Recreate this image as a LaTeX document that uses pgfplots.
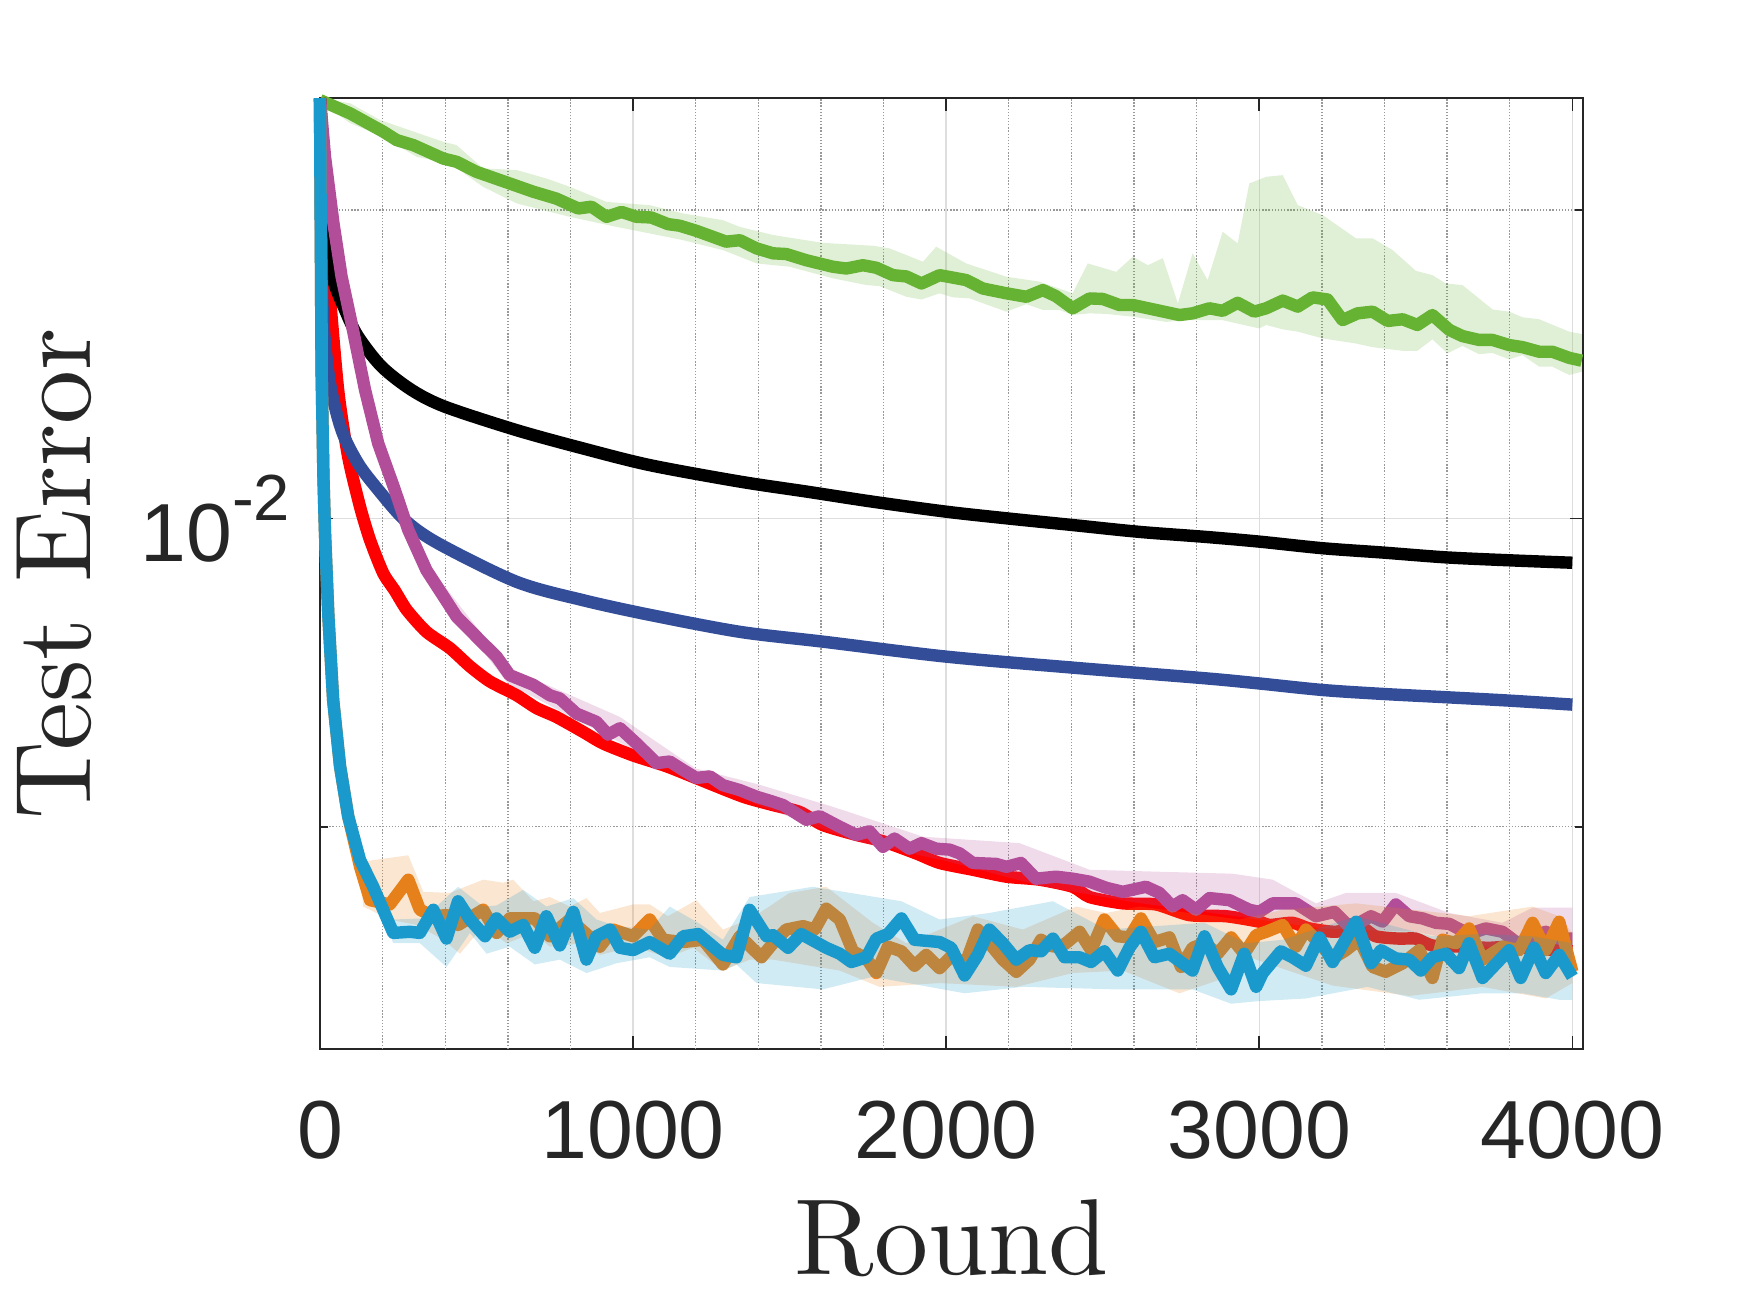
\documentclass[border=0pt]{standalone}
\usepackage{fontspec}
\usepackage{pgfplots}
\pgfplotsset{compat=1.18}
\newfontfamily\tickfont{Liberation Sans}
\newfontfamily\labfont{lmroman10-regular.otf}
\definecolor{cgreen}{RGB}{102,178,51}
\definecolor{cblue}{RGB}{51,77,153}
\definecolor{cmag}{RGB}{178,77,153}
\definecolor{ccyan}{RGB}{26,153,204}
\definecolor{corange}{RGB}{230,128,26}
\definecolor{axgray}{RGB}{38,38,38}
\begin{document}
\begin{tikzpicture}
\useasboundingbox (0,0) rectangle (437.5pt,328.25pt);
\begin{axis}[
  at={(80pt,66pt)}, anchor=south west,
  scale only axis, width=315.75pt, height=237.7pt,
  xmin=0, xmax=4034, ymode=log, ymin=0.003035, ymax=0.0257,
  xtick={0,1000,2000,3000,4000}, xticklabels={0,1000,2000,3000,4000},
  ytick={0.01}, yticklabels={{10\raisebox{0.5em}{\fontsize{16.3}{16.3}\selectfont -2}}},
  minor ytick={0.005,0.02},
  extra x ticks={200,400,600,800,1200,1400,1600,1800,2200,2400,2600,2800,3200,3400,3600,3800},
  extra x tick labels={},
  extra x tick style={grid=major, major tick length=0pt,
    major grid style={black!40, line width=0.33pt, dash pattern=on 0.33pt off 0.45pt}},
  grid=both,
  major grid style={black!13, line width=0.35pt},
  minor grid style={black!40, line width=0.33pt, dash pattern=on 0.33pt off 0.45pt},
  tick align=inside, major tick length=3.2pt, minor tick length=2pt,
  axis line style={axgray, line width=0.4pt},
  every tick/.style={axgray, line width=0.4pt},
  tick label style={font=\tickfont\fontsize{20.6}{24}\selectfont, text=axgray},
  xticklabel style={inner sep=0pt, anchor=north, yshift=-12.75pt},
  yticklabel style={inner sep=0pt, anchor=east, xshift=-7.25pt},
  xlabel={Round}, ylabel={Test Error},
  xlabel style={at={([yshift=-56.25pt]axis description cs:0.5,0)}, anchor=base, font=\labfont\fontsize{27}{30}\selectfont, text=axgray},
  ylabel style={at={([xshift=-57.3pt]axis description cs:0,0.5)}, anchor=base, rotate=0, font=\labfont\fontsize{27}{30}\selectfont, text=axgray},
  clip=false,
  every axis plot/.append style={line width=3.1pt, line join=round},
]
% green band
\addplot[draw=none, fill=cgreen, fill opacity=0.2] coordinates {
(0,0.02570)(96,0.02541)(192,0.02447)(394,0.02330)(436,0.02313)(521,0.02195)(628,0.02187)(723,0.02146)(798,0.02106)(915,0.02036)(1053,0.02021)(1160,0.01984)(1287,0.01954)(1341,0.01925)(1447,0.01890)(1606,0.01857)(1766,0.01845)(1819,0.01834)(1926,0.01780)(1968,0.01841)(2064,0.01773)(2192,0.01721)(2298,0.01702)(2404,0.01658)(2452,0.01773)(2543,0.01740)(2596,0.01800)(2644,0.01766)(2692,0.01794)(2740,0.01621)(2787,0.01814)(2835,0.01708)(2883,0.01904)(2931,0.01855)(2968,0.02122)(3022,0.02154)(3075,0.02162)(3123,0.02021)(3203,0.01976)(3309,0.01876)(3362,0.01876)(3426,0.01827)(3500,0.01744)(3553,0.01727)(3596,0.01695)(3649,0.01689)(3745,0.01599)(3798,0.01591)(3841,0.01571)(3894,0.01564)(3990,0.01521)(4030,0.01513)
(4030,0.01390)(3990,0.01380)(3936,0.01406)(3894,0.01406)(3841,0.01443)(3798,0.01429)(3745,0.01450)(3702,0.01446)(3649,0.01473)(3601,0.01449)(3553,0.01495)(3505,0.01457)(3458,0.01457)(3362,0.01469)(3309,0.01481)(3203,0.01498)(3123,0.01521)(3075,0.01529)(3022,0.01544)(3000,0.01532)(2883,0.01561)(2777,0.01561)(2702,0.01555)(2596,0.01573)(2511,0.01583)(2458,0.01585)(2404,0.01579)(2362,0.01597)(2309,0.01597)(2256,0.01618)(2192,0.01591)(2075,0.01639)(2021,0.01643)(1979,0.01658)(1921,0.01635)(1873,0.01645)(1787,0.01685)(1745,0.01689)(1638,0.01715)(1500,0.01760)(1394,0.01773)(1341,0.01800)(1287,0.01827)(1160,0.01868)(1053,0.01897)(947,0.01925)(798,0.01969)(628,0.02029)(521,0.02106)(415,0.02220)(308,0.02253)(202,0.02357)(96,0.02430)(0,0.02550)
};
% green line
\addplot[cgreen] coordinates {
(0,0.02559)(96,0.02484)(202,0.02384)(245,0.02339)(298,0.02313)(394,0.02244)(436,0.02228)(500,0.02178)(606,0.02122)(681,0.02083)(755,0.02051)(825,0.02006)(867,0.02014)(915,0.01969)(963,0.01991)(1011,0.01969)(1058,0.01966)(1111,0.01937)(1149,0.01930)(1202,0.01908)(1297,0.01862)(1341,0.01868)(1394,0.01834)(1447,0.01814)(1489,0.01811)(1553,0.01786)(1638,0.01760)(1681,0.01753)(1734,0.01766)(1777,0.01756)(1830,0.01727)(1873,0.01722)(1921,0.01695)(1979,0.01727)(2064,0.01708)(2117,0.01676)(2192,0.01658)(2256,0.01645)(2309,0.01670)(2351,0.01647)(2404,0.01603)(2458,0.01639)(2500,0.01637)(2553,0.01615)(2596,0.01615)(2670,0.01597)(2745,0.01579)(2787,0.01585)(2841,0.01603)(2883,0.01594)(2931,0.01623)(2984,0.01591)(3022,0.01603)(3075,0.01631)(3123,0.01609)(3170,0.01643)(3218,0.01635)(3266,0.01561)(3314,0.01585)(3362,0.01591)(3410,0.01558)(3458,0.01564)(3505,0.01544)(3553,0.01579)(3607,0.01527)(3649,0.01506)(3702,0.01493)(3745,0.01493)(3798,0.01476)(3841,0.01469)(3894,0.01454)(3936,0.01454)(3990,0.01434)(4030,0.01425)
};
% red line
\addplot[red, smooth, tension=0.4] coordinates {
(0,0.02570)(15,0.02100)(27,0.01721)(58,0.01334)(90,0.01148)(128,0.01026)(160,0.00952)(202,0.00884)(239,0.00850)(277,0.00814)(340,0.00775)(415,0.00747)(479,0.00717)(543,0.00693)(628,0.00672)(691,0.00653)(755,0.00640)(840,0.00619)(904,0.00603)(1000,0.00587)(1106,0.00573)(1213,0.00556)(1351,0.00535)(1447,0.00525)(1532,0.00517)(1606,0.00502)(1713,0.00491)(1798,0.00484)(1904,0.00471)(1979,0.00461)(2085,0.00454)(2192,0.00447)(2298,0.00444)(2404,0.00437)(2458,0.00427)(2564,0.00421)(2670,0.00420)(2777,0.00410)(2894,0.00409)(3000,0.00404)(3032,0.00401)(3106,0.00403)(3160,0.00398)(3245,0.00395)(3319,0.00400)(3372,0.00391)(3447,0.00389)(3500,0.00389)(3553,0.00383)(3650,0.00382)(3734,0.00381)(3798,0.00382)(3900,0.00380)(4000,0.00378)
};
% black line
\addplot[black, smooth, tension=0.5] coordinates {
(0,0.02570)(21,0.01969)(37,0.01734)(80,0.01597)(122,0.01504)(197,0.01406)(293,0.01334)(399,0.01285)(628,0.01219)(840,0.01170)(1053,0.01127)(1341,0.01086)(1553,0.01062)(1766,0.01038)(2000,0.01015)(2192,0.01000)(2404,0.00985)(2617,0.00970)(2830,0.00959)(3000,0.00949)(3202,0.00935)(3394,0.00926)(3596,0.00916)(3798,0.00910)(4000,0.00905)
};
% blue line
\addplot[cblue, smooth, tension=0.5] coordinates {
(0,0.02570)(5,0.01786)(11,0.01549)(32,0.01354)(69,0.01219)(122,0.01131)(186,0.01066)(271,0.00996)(378,0.00945)(628,0.00867)(840,0.00832)(1053,0.00805)(1341,0.00775)(1606,0.00758)(2000,0.00733)(2404,0.00715)(2830,0.00698)(3000,0.00690)(3202,0.00680)(3394,0.00674)(3596,0.00669)(3798,0.00664)(4000,0.00658)
};
% magenta band
\addplot[draw=none, fill=cmag, fill opacity=0.2] coordinates {
(282,0.00990)(340,0.00905)(600,0.00715)(958,0.00640)(1200,0.00570)(1400,0.00550)(1638,0.00523)(1926,0.00489)(2234,0.00482)(2458,0.00454)(2681,0.00452)(2915,0.00450)(3043,0.00444)(3181,0.00421)(3277,0.00431)(3436,0.00431)(3607,0.00412)(3777,0.00403)(3873,0.00417)(4000,0.00417)
(4000,0.00380)(3800,0.00378)(3500,0.00395)(3200,0.00398)(2900,0.00410)(2600,0.00422)(2300,0.00438)(2000,0.00463)(1700,0.00485)(1400,0.00525)(1000,0.00595)(600,0.00690)(340,0.00875)(282,0.00960)
};
% magenta line
\addplot[cmag] coordinates {
(0,0.02570)(16,0.02253)(43,0.01941)(69,0.01721)(101,0.01549)(144,0.01334)(186,0.01183)(239,0.01066)(282,0.00974)(340,0.00890)(436,0.00802)(521,0.00755)(564,0.00733)(606,0.00703)(681,0.00688)(734,0.00672)(766,0.00667)(819,0.00645)(883,0.00633)(920,0.00615)(958,0.00624)(1011,0.00603)(1075,0.00577)(1117,0.00579)(1160,0.00568)(1202,0.00558)(1245,0.00560)(1287,0.00549)(1341,0.00543)(1394,0.00535)(1447,0.00529)(1479,0.00525)(1553,0.00508)(1596,0.00512)(1660,0.00500)(1713,0.00491)(1755,0.00495)(1798,0.00478)(1835,0.00487)(1883,0.00476)(1921,0.00482)(1968,0.00476)(2011,0.00475)(2043,0.00471)(2085,0.00461)(2160,0.00460)(2192,0.00457)(2239,0.00461)(2287,0.00445)(2351,0.00447)(2404,0.00445)(2458,0.00442)(2511,0.00436)(2564,0.00432)(2638,0.00437)(2681,0.00431)(2723,0.00418)(2755,0.00424)(2798,0.00415)(2841,0.00426)(2905,0.00424)(2968,0.00415)(3000,0.00413)(3043,0.00421)(3117,0.00421)(3181,0.00409)(3240,0.00413)(3282,0.00401)(3319,0.00403)(3357,0.00409)(3394,0.00404)(3436,0.00420)(3479,0.00409)(3521,0.00407)(3564,0.00403)(3607,0.00402)(3670,0.00393)(3723,0.00398)(3777,0.00395)(3835,0.00383)(3873,0.00391)(3915,0.00395)(3958,0.00389)(4000,0.00389)
};
% orange band
\addplot[draw=none, fill=corange, fill opacity=0.2] coordinates {
(128,0.00462)(282,0.00469)(330,0.00432)(415,0.00431)(521,0.00444)(585,0.00441)(617,0.00444)(681,0.00423)(734,0.00427)(798,0.00418)(851,0.00426)(894,0.00412)(1000,0.00420)(1053,0.00420)(1111,0.00409)(1202,0.00424)(1287,0.00397)(1372,0.00406)(1500,0.00431)(1617,0.00437)(1766,0.00403)(1873,0.00385)(2085,0.00409)(2245,0.00397)(2415,0.00418)(2511,0.00412)(2617,0.00418)(2777,0.00412)(2937,0.00406)(3075,0.00415)(3309,0.00421)(3585,0.00412)(3670,0.00409)(3873,0.00418)(3958,0.00409)(4000,0.00394)
(4000,0.00352)(3915,0.00340)(3713,0.00349)(3553,0.00344)(3479,0.00342)(3234,0.00350)(2968,0.00373)(2937,0.00360)(2745,0.00344)(2564,0.00362)(2404,0.00360)(2224,0.00349)(1979,0.00352)(1787,0.00349)(1660,0.00362)(1447,0.00371)(1372,0.00371)(1287,0.00362)(1192,0.00381)(1111,0.00373)(1000,0.00382)(894,0.00375)(840,0.00385)(734,0.00382)(681,0.00394)(596,0.00385)(521,0.00400)(447,0.00376)(394,0.00388)(309,0.00401)(223,0.00406)(138,0.00418)(128,0.00452)
};
% orange line
\addplot[corange] coordinates {
(0,0.02570)(5,0.01400)(11,0.01098)(16,0.00967)(27,0.00800)(42,0.00665)(64,0.00573)(90,0.00512)(128,0.00457)(160,0.00424)(223,0.00420)(282,0.00444)(319,0.00415)(362,0.00409)(404,0.00410)(441,0.00401)(521,0.00415)(564,0.00394)(606,0.00407)(686,0.00407)(734,0.00391)(798,0.00406)(851,0.00393)(894,0.00382)(936,0.00397)(1000,0.00391)(1053,0.00406)(1096,0.00388)(1160,0.00386)(1223,0.00388)(1287,0.00367)(1341,0.00391)(1410,0.00373)(1447,0.00385)(1489,0.00397)(1543,0.00400)(1580,0.00397)(1617,0.00416)(1660,0.00406)(1702,0.00378)(1745,0.00372)(1777,0.00360)(1814,0.00382)(1857,0.00378)(1899,0.00366)(1936,0.00375)(1979,0.00364)(2021,0.00375)(2059,0.00366)(2101,0.00397)(2138,0.00385)(2181,0.00371)(2224,0.00361)(2266,0.00371)(2303,0.00388)(2341,0.00382)(2378,0.00384)(2426,0.00395)(2463,0.00379)(2505,0.00406)(2548,0.00391)(2585,0.00390)(2622,0.00407)(2665,0.00386)(2713,0.00390)(2750,0.00365)(2787,0.00381)(2825,0.00385)(2867,0.00376)(2910,0.00390)(2952,0.00376)(2990,0.00392)(3022,0.00395)(3075,0.00401)(3117,0.00382)(3149,0.00397)(3192,0.00385)(3234,0.00372)(3277,0.00379)(3319,0.00388)(3362,0.00365)(3404,0.00361)(3458,0.00368)(3511,0.00379)(3553,0.00356)(3585,0.00388)(3628,0.00385)(3670,0.00398)(3713,0.00371)(3777,0.00382)(3830,0.00379)(3873,0.00403)(3915,0.00379)(3958,0.00404)(4000,0.00361)
};
% cyan band
\addplot[draw=none, fill=ccyan, fill opacity=0.2] coordinates {
(170,0.00445)(234,0.00406)(330,0.00407)(441,0.00437)(521,0.00418)(564,0.00419)(649,0.00434)(723,0.00418)(809,0.00426)(883,0.00406)(947,0.00400)(1053,0.00397)(1117,0.00418)(1208,0.00403)(1287,0.00388)(1372,0.00427)(1574,0.00437)(1857,0.00423)(1979,0.00406)(2138,0.00412)(2341,0.00423)(2511,0.00397)(2670,0.00400)(2825,0.00403)(2958,0.00385)(3075,0.00388)(3309,0.00409)(3553,0.00391)(3713,0.00393)(3873,0.00391)(4000,0.00385)
(4000,0.00339)(3958,0.00339)(3840,0.00344)(3713,0.00344)(3511,0.00339)(3345,0.00349)(3149,0.00340)(3000,0.00338)(2910,0.00336)(2787,0.00347)(2543,0.00347)(2245,0.00349)(2059,0.00344)(1766,0.00357)(1606,0.00347)(1394,0.00352)(1330,0.00367)(1287,0.00362)(1117,0.00365)(1053,0.00373)(947,0.00368)(851,0.00360)(766,0.00371)(686,0.00367)(606,0.00382)(532,0.00376)(479,0.00394)(404,0.00365)(319,0.00385)(234,0.00385)(170,0.00430)
};
% cyan line
\addplot[ccyan] coordinates {
(0,0.02570)(5,0.01400)(11,0.01098)(16,0.00967)(27,0.00800)(42,0.00665)(64,0.00573)(90,0.00512)(128,0.00464)(170,0.00437)(234,0.00394)(287,0.00395)(319,0.00394)(362,0.00415)(404,0.00389)(441,0.00423)(479,0.00406)(527,0.00391)(564,0.00407)(606,0.00395)(649,0.00401)(686,0.00381)(723,0.00409)(766,0.00383)(809,0.00413)(851,0.00371)(883,0.00391)(926,0.00397)(958,0.00381)(1000,0.00379)(1053,0.00386)(1117,0.00376)(1160,0.00391)(1208,0.00393)(1287,0.00375)(1330,0.00373)(1372,0.00415)(1426,0.00391)(1447,0.00392)(1495,0.00381)(1537,0.00393)(1617,0.00381)(1660,0.00376)(1697,0.00369)(1745,0.00373)(1777,0.00389)(1814,0.00393)(1857,0.00407)(1899,0.00388)(1979,0.00386)(2016,0.00381)(2059,0.00358)(2101,0.00375)(2138,0.00397)(2181,0.00385)(2224,0.00371)(2266,0.00379)(2303,0.00378)(2341,0.00389)(2378,0.00373)(2426,0.00373)(2463,0.00369)(2505,0.00378)(2548,0.00362)(2585,0.00381)(2622,0.00395)(2665,0.00373)(2713,0.00376)(2750,0.00369)(2787,0.00362)(2825,0.00391)(2867,0.00365)(2910,0.00347)(2952,0.00376)(2990,0.00349)(3011,0.00360)(3069,0.00378)(3106,0.00373)(3149,0.00366)(3192,0.00390)(3234,0.00369)(3309,0.00404)(3357,0.00368)(3389,0.00379)(3436,0.00372)(3479,0.00371)(3516,0.00362)(3553,0.00373)(3596,0.00376)(3638,0.00364)(3670,0.00385)(3713,0.00356)(3798,0.00379)(3835,0.00356)(3878,0.00381)(3915,0.00360)(3958,0.00375)(4000,0.00357)
};
\end{axis}
\end{tikzpicture}
\end{document}
